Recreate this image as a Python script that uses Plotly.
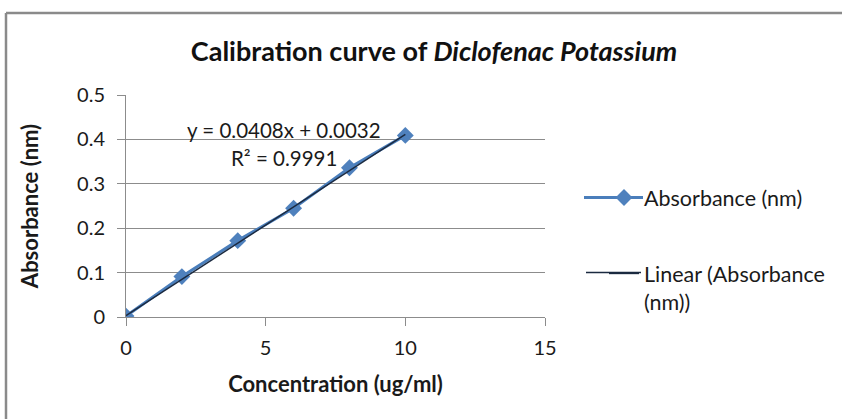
import plotly.graph_objects as go

# Data
concentration = [0, 2, 4, 6, 8, 10]
absorbance = [0.002, 0.091, 0.172, 0.245, 0.336, 0.409]
fit_slope = 0.0408
fit_intercept = 0.0032
fit_r2 = 0.9991
x_ticks = [0, 5, 10, 15]
y_ticks = [0, 0.1, 0.2, 0.3, 0.4, 0.5]
y_tick_labels = ["0", "0.1", "0.2", "0.3", "0.4", "0.5"]

FONT = "Lato"
GRID = "#8c8c8c"
TXT = "#1a1a1a"
SERIES_LINE = "#4A7EBB"
TREND_LINE = "#1b2a40"

trend_x = [concentration[0], concentration[-1]]
trend_y = [fit_slope * v + fit_intercept for v in trend_x]

# plot area in pixels
PL, PR, PT, PB = 126, 545, 95, 317
W, H = 842, 419
pw, ph = PR - PL, PB - PT


def px_x(p):
    return (p - PL) / pw


def px_y(p):
    return (PB - p) / ph


fig = go.Figure()
fig.add_trace(go.Scatter(
    x=concentration, y=absorbance, mode="lines+markers",
    name="Absorbance (nm)",
    line=dict(color=SERIES_LINE, width=3),
    marker=dict(symbol="diamond", size=13, color="#4F81BD"),
    legendgroup="a",
))
fig.add_trace(go.Scatter(
    x=trend_x, y=trend_y, mode="lines",
    name="Linear (Absorbance<br>(nm))",
    line=dict(color=TREND_LINE, width=1.5),
    legendgroup="b",
))

fig.update_layout(
    width=W, height=H,
    paper_bgcolor="white", plot_bgcolor="white",
    margin=dict(l=PL, r=W - PR, t=PT, b=H - PB),
    font=dict(family=FONT, size=20, color=TXT),
    title=dict(
        text="<b>Calibration curve of <i>Diclofenac Potassium</i></b>",
        x=434 / W, xanchor="center", y=1 - 52 / H, yanchor="middle",
        font=dict(family=FONT, size=27, color="#111"),
    ),
    showlegend=True,
    legend=dict(
        x=px_x(604), xanchor="left", y=px_y(177), yanchor="top",
        bgcolor="rgba(0,0,0,0)", tracegroupgap=45, valign="top",
        font=dict(family=FONT, size=21.5, color=TXT),
        itemwidth=30,
    ),
    xaxis=dict(
        range=[0, 15], tickvals=x_ticks, showgrid=False,
        showline=True, linecolor=GRID, linewidth=1,
        ticks="outside", ticklen=8, tickcolor=GRID,
        zeroline=False, ticklabelstandoff=5,
        title=dict(text="<b>Concentration (ug/ml)</b>", font=dict(size=22), standoff=18),
    ),
    yaxis=dict(
        range=[0, 0.5], tickvals=y_ticks, ticktext=y_tick_labels,
        showgrid=True, gridcolor=GRID, gridwidth=1,
        showline=True, linecolor=GRID, linewidth=1,
        ticks="outside", ticklen=8, tickcolor=GRID,
        zeroline=False, ticklabelstandoff=8,
        title=dict(text="<b>Absorbance (nm)</b>", font=dict(size=22), standoff=32),
    ),
)

# chart frame (top and left edges visible in reference)
fig.add_shape(type="line", xref="paper", yref="paper",
              x0=px_x(6), x1=px_x(W + 5), y0=px_y(13), y1=px_y(13),
              line=dict(color="#8a8a8a", width=2.5))
fig.add_shape(type="line", xref="paper", yref="paper",
              x0=px_x(6), x1=px_x(6), y0=px_y(13), y1=px_y(H + 5),
              line=dict(color="#8a8a8a", width=2.5))

# longer legend key lines, as in the reference
fig.add_shape(type="line", xref="paper", yref="paper",
              x0=px_x(584), x1=px_x(643), y0=px_y(197.5), y1=px_y(197.5),
              line=dict(color=SERIES_LINE, width=3))
fig.add_shape(type="line", xref="paper", yref="paper",
              x0=px_x(586), x1=px_x(641), y0=px_y(272.5), y1=px_y(272.5),
              line=dict(color=TREND_LINE, width=1.5))

fig.add_annotation(x=5.66, y=0.422, xref="x", yref="y",
                   text=f"y = {fit_slope}x + {fit_intercept}", showarrow=False,
                   font=dict(family=FONT, size=20.5, color=TXT))
fig.add_annotation(x=5.66, y=0.359, xref="x", yref="y",
                   text=f"R² = {fit_r2}", showarrow=False,
                   font=dict(family=FONT, size=20.5, color=TXT))

fig.write_html("out.html", config={"displayModeBar": False},
               post_script="document.body.style.margin='0';")
